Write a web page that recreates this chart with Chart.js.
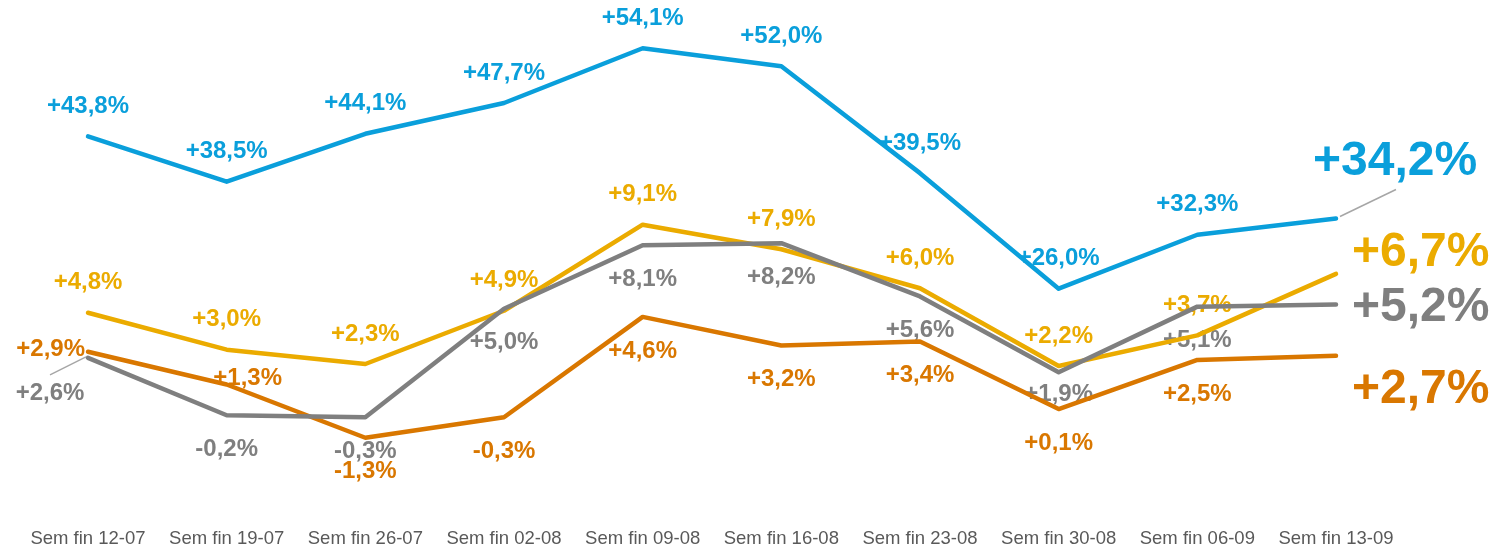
<!DOCTYPE html>
<html>
<head>
<meta charset="utf-8">
<script src="https://cdn.jsdelivr.net/npm/chart.js@4/dist/chart.umd.min.js"></script>
<style>
html,body{margin:0;padding:0;background:#ffffff;}
#wrap{width:1508px;height:550px;position:relative;}
</style>
</head>
<body>
<div id="wrap"><canvas id="c" width="1508" height="550"></canvas></div>
<script>
// ---- data ----
const categories = ['Sem fin 12-07','Sem fin 19-07','Sem fin 26-07','Sem fin 02-08','Sem fin 09-08','Sem fin 16-08','Sem fin 23-08','Sem fin 30-08','Sem fin 06-09','Sem fin 13-09'];
const blueValues   = [43.8, 38.5, 44.1, 47.7, 54.1, 52.0, 39.5, 26.0, 32.3, 34.2];
const yellowValues = [4.8, 3.0, 2.3, 4.9, 9.1, 7.9, 6.0, 2.2, 3.7, 6.7];
const grayValues   = [2.6, -0.2, -0.3, 5.0, 8.1, 8.2, 5.6, 1.9, 5.1, 5.2];
const orangeValues = [2.9, 1.3, -1.3, -0.3, 4.6, 3.2, 3.4, 0.1, 2.5, 2.7];

// label placement codes (a = above, b = below, others special)
const bluePlace   = ['a','a','a','a','a','a','a','a','a','endBlue'];
const yellowPlace = ['a','a','a','a','a','a','a','a','a','endYellow'];
const grayPlace   = ['leaderLeft','b','b','b','b','b','b','bNear','b','endGray'];
const orangePlace = ['left','right','b','b','b','b','b','b','b','endOrange'];

// ---- styles ----
const COLORS = { blue:'#0A9FDB', yellow:'#EBAB00', gray:'#7F7F7F', orange:'#D97700' };
const FONT = '"Liberation Sans", Arial, Helvetica, sans-serif';

function fmt(v){
  const s = Math.abs(v).toFixed(1).replace('.', ',');
  return (v < 0 ? '-' : '+') + s + '%';
}

// placement offsets (relative to the point)
const PLACE = {
  a:          {dx:0,   dy:-30, align:'center', big:false},
  b:          {dx:0,   dy:34,  align:'center', big:false},
  bNear:      {dx:0,   dy:22,  align:'center', big:false},
  left:       {dx:-3,  dy:-2,  align:'right',  big:false},
  right:      {dx:21,  dy:-6,  align:'center', big:false},
  leaderLeft: {dx:-38, dy:36,  align:'center', big:false, leader:[[-2,-1],[-38,17]]},
  endBlue:    {dx:-23, dy:-57, align:'left',   big:true,  leader:[[4,-2],[60,-29]]},
  endYellow:  {dx:16,  dy:-21, align:'left',   big:true},
  endGray:    {dx:16,  dy:3,   align:'left',   big:true},
  endOrange:  {dx:16,  dy:34,  align:'left',   big:true}
};

const labelPlugin = {
  id:'valueLabels',
  beforeDatasetsDraw(chart){
    const ctx = chart.ctx;
    chart.data.datasets.forEach((ds, i) => {
      const meta = chart.getDatasetMeta(i);
      meta.data.forEach((pt, j) => {
        const p = PLACE[ds.placement[j]];
        const x = pt.x, y = pt.y;
        ctx.save();
        if (p.leader){
          ctx.strokeStyle = '#A6A6A6';
          ctx.lineWidth = 1.5;
          ctx.beginPath();
          ctx.moveTo(x + p.leader[0][0], y + p.leader[0][1]);
          ctx.lineTo(x + p.leader[1][0], y + p.leader[1][1]);
          ctx.stroke();
        }
        ctx.fillStyle = ds.borderColor;
        ctx.font = 'bold ' + (p.big ? 48 : 24) + 'px ' + FONT;
        ctx.textAlign = p.align;
        ctx.textBaseline = 'middle';
        ctx.fillText(fmt(ds.data[j]), x + p.dx, y + p.dy);
        ctx.restore();
      });
    });
  }
};

const lineStyle = { borderWidth:4.5, pointRadius:0, tension:0, borderCapStyle:'round', borderJoinStyle:'round', fill:false };

new Chart(document.getElementById('c'), {
  type:'line',
  data:{
    labels: categories,
    datasets:[
      Object.assign({label:'Série 1', data:blueValues,   borderColor:COLORS.blue,   yAxisID:'y2', order:3, placement:bluePlace}, lineStyle),
      Object.assign({label:'Série 2', data:yellowValues, borderColor:COLORS.yellow, yAxisID:'y',  order:2, placement:yellowPlace}, lineStyle),
      Object.assign({label:'Série 3', data:orangeValues, borderColor:COLORS.orange, yAxisID:'y',  order:1, placement:orangePlace}, lineStyle),
      Object.assign({label:'Série 4', data:grayValues,   borderColor:COLORS.gray,   yAxisID:'y',  order:0, placement:grayPlace}, lineStyle)
    ]
  },
  options:{
    responsive:false,
    animation:false,
    layout:{padding:{left:18.67, right:102.67, top:10, bottom:-8}},
    plugins:{legend:{display:false}, tooltip:{enabled:false}},
    scales:{
      x:{
        type:'category', offset:true,
        grid:{display:false, drawTicks:false, tickLength:0}, border:{display:false},
        ticks:{color:'#595959', font:{family:FONT, size:18.5}, padding:8, maxRotation:0, autoSkip:false}
      },
      y:{display:false, min:-5.305, max:19.581},
      y2:{display:false, position:'right', min:-1.016, max:58.569}
    }
  },
  plugins:[labelPlugin]
});
</script>
</body>
</html>
